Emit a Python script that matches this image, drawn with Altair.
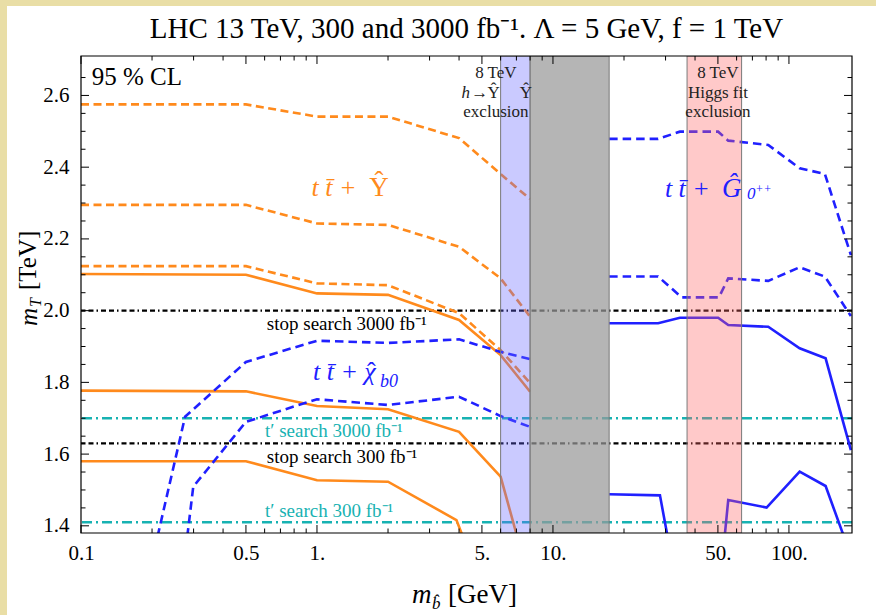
import altair as alt
import pandas as pd

W, H = 771, 477
SERIF = "Liberation Serif"

# ---------------- data ----------------
x_domain = [0.1, 185]
y_domain = [1.38, 2.71]

# orange dashed curves (t tbar + Upsilon-hat)
od1_x = [0.1, 0.5, 1, 2, 4, 6, 8]
od1_y = [2.575, 2.575, 2.541, 2.541, 2.481, 2.381, 2.311]
od2_x = [0.1, 0.5, 1, 2, 4, 6, 8]
od2_y = [2.295, 2.295, 2.243, 2.239, 2.178, 2.090, 1.983]
od3_x = [0.1, 0.5, 1, 2, 4, 6, 8]
od3_y = [2.124, 2.124, 2.076, 2.071, 1.993, 1.890, 1.798]
# orange solid curves
os1_x = [0.1, 0.5, 1, 2, 4, 6, 8]
os1_y = [2.102, 2.100, 2.048, 2.044, 1.974, 1.876, 1.774]
os2_x = [0.1, 0.5, 1, 2, 4, 6, 7.05]
os2_y = [1.777, 1.775, 1.734, 1.725, 1.662, 1.537, 1.37]
os3_x = [0.1, 0.5, 1, 2, 3.9, 4.15]
os3_y = [1.580, 1.580, 1.527, 1.523, 1.416, 1.37]

# blue dashed (t tbar + chi_b0)
ca_x = [0.211, 0.276, 0.5, 1, 2, 4, 6, 8]
ca_y = [1.37, 1.704, 1.857, 1.916, 1.910, 1.920, 1.885, 1.865]
cb_x = [0.282, 0.299, 0.5, 1, 2, 4, 6, 8]
cb_y = [1.37, 1.509, 1.690, 1.753, 1.737, 1.760, 1.706, 1.676]

# blue dashed (t tbar + G_0++)
gd1_x = [17.3, 27.9, 34.5, 50.1, 55.3, 81.7, 111, 142, 183]
gd1_y = [2.479, 2.479, 2.499, 2.499, 2.474, 2.462, 2.397, 2.381, 2.155]
gd2_x = [17.3, 27.9, 35.1, 50.5, 55.3, 81.7, 111, 142, 183]
gd2_y = [2.095, 2.095, 2.037, 2.037, 2.090, 2.083, 2.121, 2.095, 1.985]
# blue solid (t tbar + G_0++)
gs1_x = [17.3, 27.9, 34.5, 50.1, 55.3, 81.7, 111, 143, 183]
gs1_y = [1.965, 1.965, 1.980, 1.980, 1.960, 1.955, 1.895, 1.867, 1.611]
gs2a_x = [17.3, 28.4, 30.6]
gs2a_y = [1.488, 1.485, 1.37]
gs2b_x = [53.4, 55.3, 80.4, 111, 143, 171]
gs2b_y = [1.37, 1.472, 1.451, 1.551, 1.511, 1.37]

# horizontal search limits
stop_y = [2.0, 1.63]
tprime_y = [1.70, 1.41]

# exclusion bands [GeV]
band_lo = [6.0, 8.0, 37.0]
band_hi = [8.0, 17.3, 63.0]
band_fill = ["#6666ff", "#999999", "#ff6464"]
band_op = [0.35, 0.72, 0.35]

# ticks
x_labels = [0.1, 0.5, 1, 5, 10, 50, 100]
x_minor = [0.2, 0.3, 0.4, 0.6, 0.7, 0.8, 0.9, 2, 3, 4, 6, 7, 8, 9,
           20, 30, 40, 60, 70, 80, 90]
y_major = [1.4, 1.6, 1.8, 2.0, 2.2, 2.4, 2.6]
y_minor = [1.45, 1.5, 1.55, 1.65, 1.7, 1.75, 1.85, 1.9, 1.95, 2.05, 2.1, 2.15,
           2.25, 2.3, 2.35, 2.45, 2.5, 2.55, 2.65]

ORANGE = "#FF8A1C"
BLUE = "#2020FF"
TEAL = "#17B2B2"
DARK = "#222222"

# ---------------- helpers ----------------
xs = alt.Scale(type="log", domain=x_domain, nice=False)
ys = alt.Scale(domain=y_domain, nice=False, zero=False)
x_axis = alt.Axis(values=x_labels, labelExpr="datum.value < 1 ? format(datum.value, '.1f') : format(datum.value, 'd') + '.'",
                  domain=False, ticks=False, grid=False, title=None, labelFont=SERIF, labelFontSize=21,
                  labelColor="black", labelPadding=9, labelOverlap=False, labelFlush=False)
y_axis = alt.Axis(values=y_major, format=".1f", domain=False, ticks=False, grid=False, title=None,
                  labelFont=SERIF, labelFontSize=21, labelColor="black", labelPadding=12)
X = alt.X("x:Q", scale=xs, axis=x_axis)
Y = alt.Y("y:Q", scale=ys, axis=y_axis)


def series(names_xy):
    rows = []
    for name, xv, yv in names_xy:
        for a, b in zip(xv, yv):
            rows.append({"s": name, "x": a, "y": b})
    return pd.DataFrame(rows)


def lines(df, color, dash=None, width=2.6):
    kw = dict(color=color, strokeWidth=width, clip=True, strokeJoin="miter")
    if dash:
        kw["strokeDash"] = dash
    return alt.Chart(df).mark_line(**kw).encode(x=X, y=Y, detail="s:N")


orange_dashed = lines(series([("a", od1_x, od1_y), ("b", od2_x, od2_y), ("c", od3_x, od3_y)]), ORANGE, [8, 4.5])
orange_solid = lines(series([("a", os1_x, os1_y), ("b", os2_x, os2_y), ("c", os3_x, os3_y)]), ORANGE)
blue_dashed = lines(series([("a", ca_x, ca_y), ("b", cb_x, cb_y), ("c", gd1_x, gd1_y), ("d", gd2_x, gd2_y)]), BLUE, [8.5, 5])
blue_solid = lines(series([("a", gs1_x, gs1_y), ("b", gs2a_x, gs2a_y), ("c", gs2b_x, gs2b_y)]), BLUE)

stop_rules = alt.Chart(pd.DataFrame({"y": stop_y})).mark_rule(
    color="black", strokeWidth=2.4, strokeDash=[5, 3, 5, 3, 1.5, 3]).encode(y=Y)
tp_rules = alt.Chart(pd.DataFrame({"y": tprime_y})).mark_rule(
    color=TEAL, strokeWidth=2.4, strokeDash=[10, 4, 2, 4]).encode(y=Y)

bands_df = pd.DataFrame({"x": band_lo, "x2": band_hi, "fill": band_fill, "op": band_op})
bands = alt.Chart(bands_df).mark_rect(stroke="#7a7a7a", strokeWidth=1, clip=True).encode(
    x=X, x2="x2:Q", y=alt.value(0), y2=alt.value(H),
    fill=alt.Fill("fill:N", scale=None), fillOpacity=alt.FillOpacity("op:Q", scale=None))


# ticks (inward, all four sides)
def xticks(vals, length):
    d = pd.DataFrame({"x": vals})
    b = alt.Chart(d).mark_rule(color="black", strokeWidth=1).encode(x=X, y=alt.value(H), y2=alt.value(H - length))
    t = alt.Chart(d).mark_rule(color="black", strokeWidth=1).encode(x=X, y=alt.value(0), y2=alt.value(length))
    return b + t


def yticks(vals, length):
    d = pd.DataFrame({"y": vals})
    l = alt.Chart(d).mark_rule(color="black", strokeWidth=1).encode(y=Y, x=alt.value(0), x2=alt.value(length))
    r = alt.Chart(d).mark_rule(color="black", strokeWidth=1).encode(y=Y, x=alt.value(W), x2=alt.value(W - length))
    return l + r


ticks = xticks(x_labels, 8) + xticks(x_minor, 4.5) + yticks(y_major, 8) + yticks(y_minor, 4.5)

frame = alt.Chart(pd.DataFrame({"k": [0]})).mark_rect(fill=None, stroke="black", strokeWidth=1.2).encode(
    x=alt.value(0), x2=alt.value(W), y=alt.value(0), y2=alt.value(H))


# ---------------- text ----------------
def label(xv, yv, text, size, color="black", style="normal", align="left", dy=0):
    d = pd.DataFrame({"x": [xv], "y": [yv], "t": [text]})
    return alt.Chart(d).mark_text(font=SERIF, fontSize=size, color=color, fontStyle=style,
                                  align=align, baseline="alphabetic", dy=dy).encode(x=X, y=Y, text="t:N")


HAT = "\u02c6"
texts = [
    label(0.111, 2.629, "95 % CL", 25),
    # t tbar + Upsilon-hat
    label(0.949, 2.320, "t t\u0304 +", 26, ORANGE, "italic"),
    label(1.831, 2.320, "\u03a5", 27, ORANGE, align="center"),
    label(1.831, 2.320, HAT, 27, ORANGE, align="center", dy=-6),
    # t tbar + G_0++
    label(29.8, 2.318, "t t\u0304 +", 26, BLUE, "italic"),
    label(52.0, 2.318, "\u011c", 27, BLUE, "italic"),
    label(66.4, 2.311, "0", 17, BLUE, "italic"),
    label(72.0, 2.328, "++", 12, BLUE, "italic"),
    # t tbar + chi_b0
    label(0.962, 1.806, "t t\u0304 +", 26, BLUE, "italic"),
    label(1.677, 1.806, "\u03c7", 26, BLUE, "italic", align="center"),
    label(1.70, 1.806, HAT, 26, BLUE, align="center", dy=0),
    label(1.849, 1.786, "b0", 18, BLUE, "italic"),
    # search labels
    label(0.613, 1.946, "stop search 3000 fb\u207b\u00b9", 19),
    label(0.613, 1.575, "stop search 300 fb\u207b\u00b9", 19),
    label(0.602, 1.648, "t\u2032 search 3000 fb\u207b\u00b9", 19, TEAL),
    label(0.602, 1.425, "t\u2032 search 300 fb\u207b\u00b9", 19, TEAL),
    # band labels
    label(5.73, 2.648, "8 TeV", 17, DARK, align="center"),
    label(4.10, 2.592, "h", 17, DARK, "italic"),
    label(4.50, 2.592, "\u2192", 17, DARK),
    label(5.60, 2.592, "\u03a5", 17, DARK, align="center"),
    label(5.60, 2.592, HAT, 17, DARK, align="center", dy=-4),
    label(7.685, 2.592, "\u03a5", 17, DARK, align="center"),
    label(7.685, 2.592, HAT, 17, DARK, align="center", dy=-4),
    label(5.73, 2.539, "exclusion", 17, DARK, align="center"),
    label(50.0, 2.648, "8 TeV", 17, DARK, align="center"),
    label(50.0, 2.592, "Higgs fit", 17, DARK, align="center"),
    label(50.0, 2.539, "exclusion", 17, DARK, align="center"),
]


def ptext(px, py, text, size, style="normal", angle=0, align="left"):
    d = pd.DataFrame({"t": [text]})
    return alt.Chart(d).mark_text(font=SERIF, fontSize=size, color="black", fontStyle=style, angle=angle,
                                  align=align, baseline="alphabetic").encode(
        x=alt.value(px), y=alt.value(py), text="t:N")


title_txt = ptext(W / 2, -18, "LHC 13 TeV, 300 and 3000 fb\u207b\u00b9. \u039b = 5 GeV, f = 1 TeV", 29, align="center")
xtitle = [ptext(331, 547, "m", 27, "italic"), ptext(351, 553, "b\u0302", 17, "italic"), ptext(367, 547, "[GeV]", 27)]
ytitle = [ptext(-44, 270, "m", 25, "italic", 270), ptext(-40, 251, "T", 16, "italic", 270),
          ptext(-45, 234, "[TeV]", 25, angle=270)]

# cream strips at top / left of the picture
strip_df = pd.DataFrame({"k": [0]})
strip_left = alt.Chart(strip_df).mark_rect(color="#E9DEA6").encode(
    x=alt.value(-81), x2=alt.value(-74), y=alt.value(-56), y2=alt.value(H + 90))
strip_top = alt.Chart(strip_df).mark_rect(color="#E9DEA6").encode(
    x=alt.value(-81), x2=alt.value(W + 30), y=alt.value(-56), y2=alt.value(-50))

chart = alt.layer(
    strip_left, strip_top, stop_rules, tp_rules, orange_dashed, orange_solid, blue_dashed, blue_solid,
    bands, ticks, frame, *texts, title_txt, *xtitle, *ytitle
).properties(
    width=W, height=H,
    autosize=alt.AutoSizeParams(type="none"),
    padding={"left": 81, "top": 56, "right": 24, "bottom": 82},
    background="white",
).configure_view(stroke=None)

chart.save("out.html", embed_options={"renderer": "svg", "actions": False})
